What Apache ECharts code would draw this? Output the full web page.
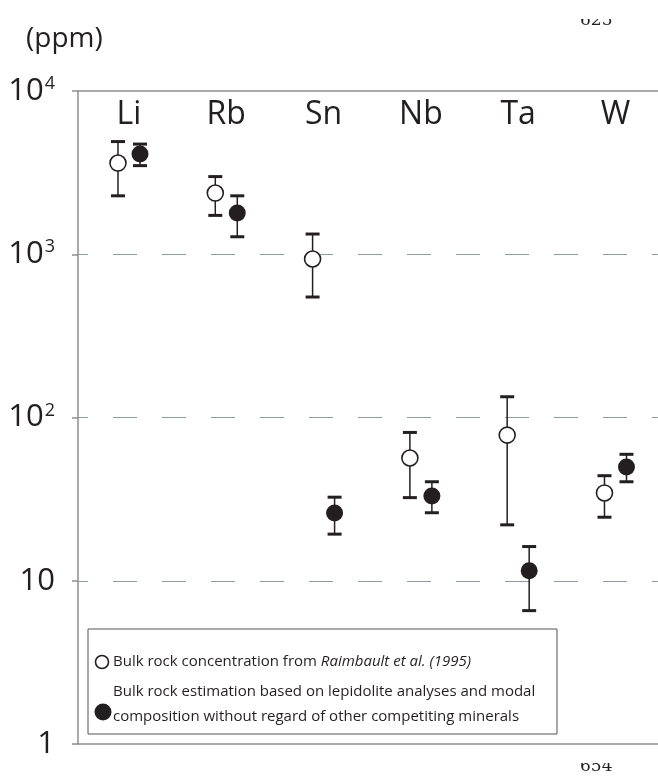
<!DOCTYPE html>
<html><head><meta charset="utf-8">
<script src="https://cdn.jsdelivr.net/npm/echarts@6/dist/echarts.min.js"></script>
<style>html,body{margin:0;padding:0;background:#fff}#c{width:658px;height:776px}</style>
</head><body><div id="c"></div>
<script>
const categories = ['Li', 'Rb', 'Sn', 'Nb', 'Ta', 'W'];
// Bulk rock concentration from Raimbault et al. (1995) (open circles)
const openValues = [3620, 2370, 935, 56.5, 78, 34.5];
const openLow    = [2280, 1730, 547, 32.3, 22.0, 24.5];
const openHigh   = [4900, 2990, 1330, 81, 134, 44];
// Bulk rock estimation from lepidolite analyses (filled circles)
const filledValues = [4110, 1790, 26, 33, 11.5, 49.7];
const filledLow    = [3490, 1280, 19.3, 26.1, 6.56, 40.4];
const filledHigh   = [4730, 2280, 32.5, 40.4, 16.2, 59.5];
const yTickLabels = { 1: '1', 10: '10', 100: '10{s|2}', 1000: '10{s|3}', 10000: '10{s|4}' };
const openName = 'Bulk rock concentration from Raimbault et al. (1995)';
const filledName = 'Bulk rock estimation based on lepidolite analyses and modal composition without regard of other competiting minerals';

const FONT = 'Open Sans';
const INK = '#231f20';
const AX = '#8e8e8e';

const chart = echarts.init(document.getElementById('c'), null, { renderer: 'canvas' });

function errorBars(name, low, high, dx) {
  return {
    type: 'custom', name: name + ' (range)', z: 2,
    data: low.map((l, i) => [i, l, high[i]]),
    encode: { x: 0, y: [1, 2] },
    renderItem(params, api) {
      const x = api.value(0);
      const lo = api.coord([x, api.value(1)]);
      const hi = api.coord([x, api.value(2)]);
      const cx = lo[0] + dx, h = 7;
      const st = { stroke: INK, lineWidth: 1.5 };
      const cap = { stroke: INK, lineWidth: 3 };
      return { type: 'group', children: [
        { type: 'line', shape: { x1: cx, y1: hi[1], x2: cx, y2: lo[1] }, style: st },
        { type: 'line', shape: { x1: cx - h, y1: hi[1], x2: cx + h, y2: hi[1] }, style: cap },
        { type: 'line', shape: { x1: cx - h, y1: lo[1], x2: cx + h, y2: lo[1] }, style: cap }
      ]};
    }
  };
}

const xCommon = {
  type: 'value', min: -0.524, max: 5.437,
  axisLine: { show: true, onZero: false, lineStyle: { color: AX, width: 1.5 } },
  axisTick: { show: false }, splitLine: { show: false }
};

chart.setOption({
  animation: false,
  backgroundColor: '#fff',
  grid: { left: 78, right: 0, top: 91, bottom: 32 },
  xAxis: [
    Object.assign({}, xCommon, { position: 'bottom', axisLabel: { show: false } }),
    Object.assign({}, xCommon, {
      position: 'top',
      axisLabel: {
        show: true, inside: true, margin: 8,
        customValues: [0, 1, 2, 3, 4, 5],
        formatter: v => categories[Math.round(v)],
        fontFamily: FONT, fontSize: 32, color: INK
      }
    })
  ],
  yAxis: {
    type: 'log', logBase: 10, min: 1, max: 10000,
    axisLine: { show: true, onZero: false, lineStyle: { color: AX, width: 1.5 } },
    axisTick: { show: true, inside: false, length: 6, lineStyle: { color: AX, width: 1.5 } },
    axisLabel: {
      margin: 23, fontFamily: FONT, fontSize: 31, color: INK,
      formatter: v => yTickLabels[Math.round(v)] || '',
      rich: { s: { fontFamily: FONT, fontSize: 18, color: INK, verticalAlign: 'top', padding: [0, 0, 14, 1] } }
    },
    splitLine: {
      show: true, showMinLine: false, showMaxLine: false,
      lineStyle: { color: '#8d9ca4', width: 1.2, type: [24, 25], dashOffset: 14 }
    }
  },
  series: [
    errorBars(openName, openLow, openHigh, -11),
    errorBars(filledName, filledLow, filledHigh, 11),
    {
      type: 'scatter', name: openName, z: 3, xAxisIndex: 0,
      data: openValues.map((v, i) => [i, v]),
      symbol: 'circle', symbolSize: 16, symbolOffset: [-11, 0],
      itemStyle: { color: '#fff', borderColor: INK, borderWidth: 1.6, opacity: 1 }
    },
    {
      type: 'scatter', name: filledName, z: 3, xAxisIndex: 0,
      data: filledValues.map((v, i) => [i, v]),
      symbol: 'circle', symbolSize: 17, symbolOffset: [11, 0],
      itemStyle: { color: INK, opacity: 1 }
    }
  ],
  graphic: [
    { type: 'text', left: 26, top: 25, style: { text: '(ppm)', font: '28px "' + FONT + '"', fill: INK } },
    { type: 'rect', shape: { x: 88, y: 629, width: 469, height: 105 }, style: { fill: '#fff', stroke: '#555', lineWidth: 1 }, z: 10 },
    { type: 'circle', shape: { cx: 102, cy: 662, r: 6.5 }, style: { fill: '#fff', stroke: INK, lineWidth: 1.6 }, z: 11 },
    { type: 'text', x: 113, y: 662, z: 11, style: {
      text: '{n|Bulk rock concentration from }{i|Raimbault et al. (1995)}',
      verticalAlign: 'middle',
      rich: { n: { fontFamily: FONT, fontSize: 15, fill: INK }, i: { fontFamily: FONT, fontSize: 15, fontStyle: 'italic', fill: INK } }
    } },
    { type: 'circle', shape: { cx: 103, cy: 712, r: 8.5 }, style: { fill: INK }, z: 11 },
    { type: 'text', x: 113, y: 704.5, z: 11, style: {
      text: 'Bulk rock estimation based on lepidolite analyses and modal\ncomposition without regard of other competiting minerals',
      verticalAlign: 'middle', font: '15px "' + FONT + '"', lineHeight: 25, fill: INK
    } },
    { type: 'text', x: 580, y: 12, z: 11, style: { text: '625', font: '17px "DejaVu Serif"', fill: INK } },
    { type: 'rect', shape: { x: 570, y: 0, width: 60, height: 19 }, style: { fill: '#fff' }, z: 12 },
    { type: 'text', x: 580, y: 758, z: 11, style: { text: '654', font: '17px "DejaVu Serif"', fill: INK } },
    { type: 'rect', shape: { x: 570, y: 750, width: 60, height: 13 }, style: { fill: '#fff' }, z: 12 }
  ]
});
</script></body></html>
